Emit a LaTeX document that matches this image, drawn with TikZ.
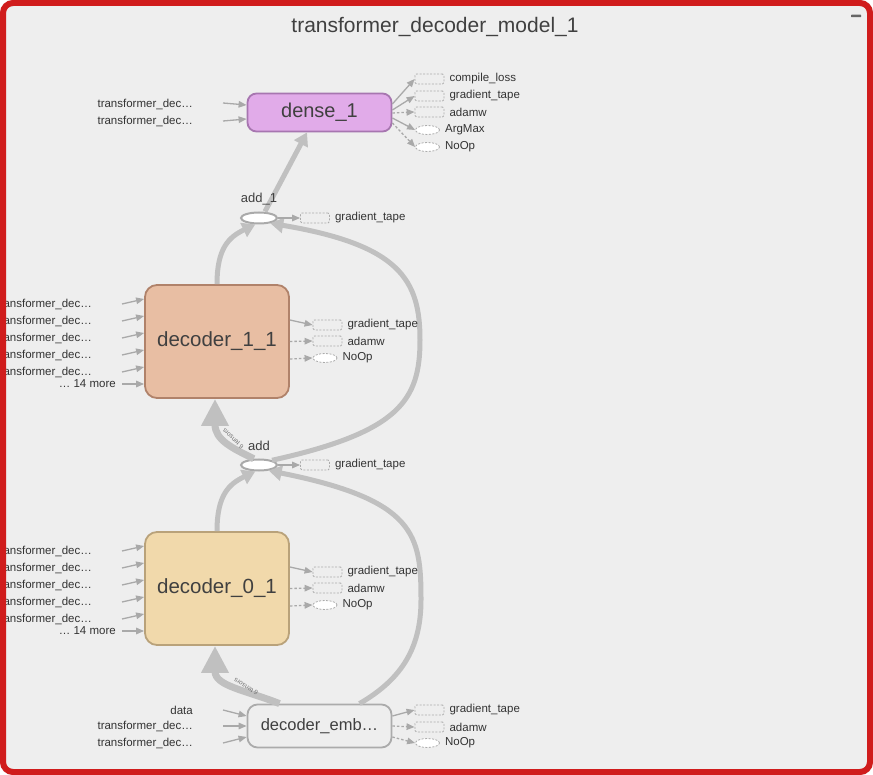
\documentclass[tikz,border=0pt]{standalone}
\usepackage{fontspec}
\setmainfont{Liberation Sans}
\usetikzlibrary{shapes.geometric,arrows.meta}
\definecolor{bgc}{HTML}{EEEEEE}
\definecolor{redc}{HTML}{D01C1C}
\definecolor{txtc}{HTML}{333333}
\definecolor{titlec}{HTML}{404040}
\definecolor{edgec}{HTML}{A9A9A9}
\definecolor{bigc}{HTML}{C0C0C0}
\definecolor{dashc}{HTML}{ABABAB}
\definecolor{densef}{HTML}{E1ABE9}
\definecolor{densed}{HTML}{A776B0}
\definecolor{deconef}{HTML}{E8BEA3}
\definecolor{deconed}{HTML}{B0826A}
\definecolor{deczerof}{HTML}{F1D9AB}
\definecolor{deczerod}{HTML}{B9A27A}
\definecolor{embd}{HTML}{ABABAB}
\definecolor{ovald}{HTML}{AAAAAA}
\begin{document}
\begin{tikzpicture}[x=1pt,y=-1pt,
  lbl/.style={inner sep=0pt, font=\fontsize{11.5}{13}\selectfont, text=txtc},
  inlbl/.style={lbl, anchor=east},
  outlbl/.style={lbl, anchor=west},
  oprect/.style={draw=dashc, dash pattern=on 2pt off 1.5pt, line width=0.8pt, minimum width=29pt, minimum height=10pt, inner sep=0pt, rounded corners=1.5pt},
  opell/.style={ellipse, draw=dashc, dash pattern=on 2pt off 1.5pt, line width=0.8pt, fill=white, minimum width=24pt, minimum height=9pt, inner sep=0pt},
  smalledge/.style={draw=edgec, line width=1.3pt, -{Triangle[length=8pt,width=6.5pt]}},
  smalldash/.style={smalledge, dash pattern=on 2.5pt off 2pt},
  bigedge/.style={draw=bigc, line width=5pt, -{Triangle[length=13pt,width=15pt]}},
  wideedge/.style={draw=bigc, line width=7pt, -{Triangle[length=27pt,width=26pt]}},
  mainbox/.style={draw, line width=1.8pt, inner sep=0pt, text=titlec},
  oval/.style={ellipse, draw=ovald, line width=2pt, fill=white, minimum width=36pt, minimum height=11pt, inner sep=0pt},
  ovallbl/.style={inner sep=0pt, font=\fontsize{13}{15}\selectfont, text=titlec},
  tens/.style={inner sep=0pt, font=\fontsize{6.5}{7}\selectfont, text=black!55}
]
\useasboundingbox (0,0) rectangle (873,775);
\fill[bgc, rounded corners=12pt] (0,0) rectangle (873,775);

% title and collapse mark
\node[font=\fontsize{21}{24}\selectfont, text=titlec, inner sep=0pt] (title) at (435,27) {transformer\_decoder\_model\_1};
\node[fill=black!60, minimum width=10pt, minimum height=2.5pt, inner sep=0pt, rounded corners=0.5pt] (collapse) at (856,16) {};

% main nodes
\node[mainbox, fill=densef, draw=densed, minimum width=144pt, minimum height=38pt, rounded corners=9pt, font=\fontsize{20}{24}\selectfont] (dense) at (319.5,112.5) {dense\_1};
\node[mainbox, fill=deconef, draw=deconed, minimum width=144pt, minimum height=113pt, rounded corners=12pt, font=\fontsize{20.5}{24}\selectfont] (decone) at (217,341.5) {decoder\_1\_1};
\node[mainbox, fill=deczerof, draw=deczerod, minimum width=144pt, minimum height=113pt, rounded corners=12pt, font=\fontsize{20.5}{24}\selectfont] (deczero) at (217,588.5) {decoder\_0\_1};
\node[mainbox, fill=bgc, draw=embd, minimum width=144pt, minimum height=43pt, rounded corners=10pt, font=\fontsize{16.5}{20}\selectfont] (emb) at (319.5,726) {decoder\_emb…};

\node[oval] (addone) at (259,218) {};
\node[oval] (addz) at (259,465) {};

% big edges
\draw[bigedge] ([xshift=6pt]addone.north) -- ([xshift=-12.5pt]dense.south);
\draw[bigedge] (decone.north) .. controls (217,248) and (229,237) .. (addone.240);
\draw[bigedge] (deczero.north) .. controls (217,495) and (229,484) .. (addz.240);
\draw[bigedge] (addz.20) .. controls (400,432) and (420,400) .. (420,340) .. controls (420,280) and (400,245) .. (addone.-25);
\draw[bigedge] ([xshift=40pt]emb.north) .. controls (400,680) and (421,650) .. (421,600) .. controls (421,535) and (416,500) .. (addz.-30);
\draw[wideedge] (addz.130) .. controls (232,448) and (215,440) .. ([xshift=-2pt]decone.south);
\draw[wideedge] ([xshift=-40pt]emb.north) .. controls (245,690) and (215,686) .. ([xshift=-2pt]deczero.south);
\node[tens, rotate=136] (tensa) at (233,439) {6 tensors};
\node[tens, rotate=149] (tensb) at (246,687) {6 tensors};

\node[ovallbl] (addonelbl) at (259,199) {add\_1};
\node[ovallbl] (addzlbl) at (259,446) {add};

% dense_1 inputs
\node[inlbl] (dia) at (193,104) {transformer\_dec…};
\node[inlbl] (dib) at (193,121) {transformer\_dec…};
\draw[smalledge] ([xshift=30pt,yshift=1pt]dia.east) -- ([yshift=7.5pt]dense.west);
\draw[smalledge] ([xshift=30pt]dib.east) -- ([yshift=-6.5pt]dense.west);

% dense_1 outputs
\node[oprect] (dcl) at (429.5,79) {};
\node[oprect] (dgt) at (429.5,96) {};
\node[oprect] (dad) at (429.5,112) {};
\node[opell] (dam) at (427.5,130) {};
\node[opell] (dno) at (427.5,147) {};
\node[outlbl] (dcll) at ([xshift=5pt]dcl.east) {compile\_loss};
\node[outlbl] (dgtl) at ([xshift=5pt]dgt.east) {gradient\_tape};
\node[outlbl] (dadl) at ([xshift=5pt]dad.east) {adamw};
\node[outlbl] (daml) at ([xshift=5pt]dam.east) {ArgMax};
\node[outlbl] (dnol) at ([xshift=5pt]dno.east) {NoOp};
\draw[smalledge] ([yshift=8.5pt]dense.east) -- (dcl.west);
\draw[smalledge] ([yshift=2.5pt]dense.east) -- (dgt.west);
\draw[smalldash] ([yshift=-0.5pt]dense.east) -- (dad.west);
\draw[smalledge] ([yshift=-5.5pt]dense.east) -- (dam.west);
\draw[smalldash] ([yshift=-10.5pt]dense.east) -- (dno.west);

% add_1 / add outputs
\node[oprect] (aogt) at (315,218) {};
\node[outlbl] (aogtl) at ([xshift=5pt]aogt.east) {gradient\_tape};
\draw[smalledge] (addone.east) -- (aogt.west);
\node[oprect] (azgt) at (315,465) {};
\node[outlbl] (azgtl) at ([xshift=5pt]azgt.east) {gradient\_tape};
\draw[smalledge] (addz.east) -- (azgt.west);

% decoder_1_1 inputs
\foreach \k/\ys in {0/42.5, 1/25.5, 2/8.5, 3/-8.5, 4/-25.5} {
  \node[inlbl] (oin\k) at (92,304+17*\k) {transformer\_dec…};
  \draw[smalledge] ([xshift=30pt]oin\k.east) -- ([yshift=\ys pt]decone.west);
}
\node[inlbl] (omore) at (116,384) {… 14 more};
\draw[smalledge] ([xshift=6pt]omore.east) -- ([yshift=-42.5pt]decone.west);

% decoder_1_1 outputs
\node[oprect] (ogt) at (327.5,325) {};
\node[oprect] (oad) at (327.5,341) {};
\node[opell] (ono) at (325,358) {};
\node[outlbl] (ogtl) at ([xshift=5pt]ogt.east) {gradient\_tape};
\node[outlbl] (oadl) at ([xshift=5pt]oad.east) {adamw};
\node[outlbl] (onol) at ([xshift=5pt]ono.east) {NoOp};
\draw[smalledge] ([yshift=21.5pt]decone.east) -- (ogt.west);
\draw[smalldash] (decone.east) -- (oad.west);
\draw[smalldash] ([yshift=-17.5pt]decone.east) -- (ono.west);

% decoder_0_1 inputs
\foreach \k/\ys in {0/42.5, 1/25.5, 2/8.5, 3/-8.5, 4/-25.5} {
  \node[inlbl] (zin\k) at (92,551+17*\k) {transformer\_dec…};
  \draw[smalledge] ([xshift=30pt]zin\k.east) -- ([yshift=\ys pt]deczero.west);
}
\node[inlbl] (zmore) at (116,631) {… 14 more};
\draw[smalledge] ([xshift=6pt]zmore.east) -- ([yshift=-42.5pt]deczero.west);

% decoder_0_1 outputs
\node[oprect] (zgt) at (327.5,572) {};
\node[oprect] (zad) at (327.5,588) {};
\node[opell] (zno) at (325,605) {};
\node[outlbl] (zgtl) at ([xshift=5pt]zgt.east) {gradient\_tape};
\node[outlbl] (zadl) at ([xshift=5pt]zad.east) {adamw};
\node[outlbl] (znol) at ([xshift=5pt]zno.east) {NoOp};
\draw[smalledge] ([yshift=21.5pt]deczero.east) -- (zgt.west);
\draw[smalldash] (deczero.east) -- (zad.west);
\draw[smalldash] ([yshift=-17.5pt]deczero.east) -- (zno.west);

% decoder_emb inputs
\node[inlbl] (eia) at (193,710) {data};
\node[inlbl] (eib) at (193,726) {transformer\_dec…};
\node[inlbl] (eic) at (193,743) {transformer\_dec…};
\draw[smalledge] ([xshift=30pt]eia.east) -- ([yshift=10pt]emb.west);
\draw[smalledge] ([xshift=30pt]eib.east) -- (emb.west);
\draw[smalledge] ([xshift=30pt]eic.east) -- ([yshift=-11pt]emb.west);

% decoder_emb outputs
\node[oprect] (egt) at (429.5,710) {};
\node[oprect] (ead) at (429.5,727) {};
\node[opell] (eno) at (427.5,743) {};
\node[outlbl] (egtl) at ([xshift=5pt]egt.east) {gradient\_tape};
\node[outlbl] (eadl) at ([xshift=5pt]ead.east) {adamw};
\node[outlbl] (enol) at ([xshift=5pt]eno.east) {NoOp};
\draw[smalledge] ([yshift=10pt]emb.east) -- (egt.west);
\draw[smalldash] (emb.east) -- (ead.west);
\draw[smalldash] ([yshift=-11pt]emb.east) -- (eno.west);

% frame
\draw[redc, line width=6pt, rounded corners=10pt] (3,3) rectangle (870,772);
\end{tikzpicture}
\end{document}
